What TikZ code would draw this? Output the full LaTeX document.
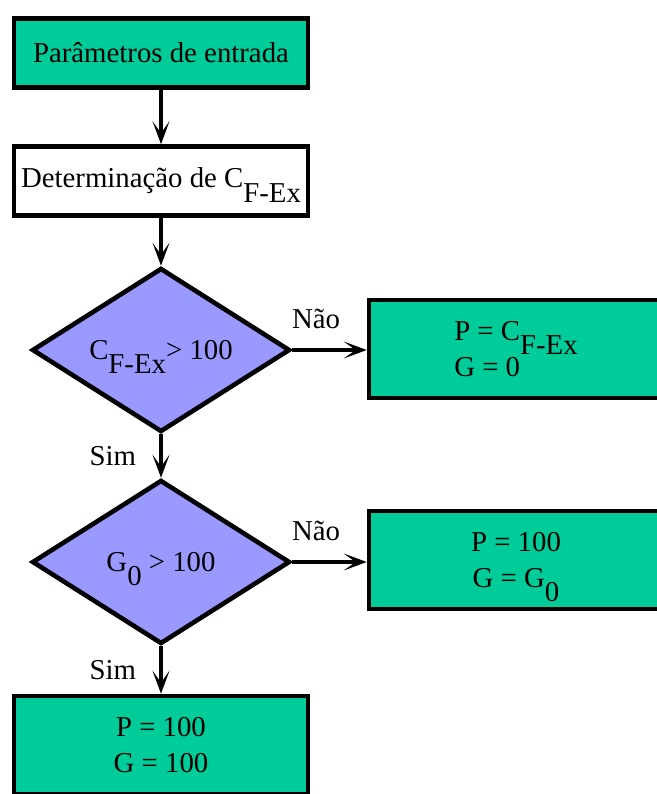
\documentclass[tikz,border=0pt]{standalone}
\usepackage{fontspec}
\setmainfont{Liberation Serif}
\usepackage{xcolor}
\usetikzlibrary{arrows.meta,positioning,shapes.geometric}
\definecolor{boxgreen}{RGB}{0,204,153}
\definecolor{testblue}{RGB}{153,153,255}
\newcommand{\lowidx}[1]{\raisebox{-1.1ex}[0pt][0pt]{#1}}

\begin{document}
\begin{tikzpicture}[x=.5pt,y=-.5pt,font=\fontsize{14.4}{18}\selectfont,
  >={Stealth[length=11.5pt,width=8.5pt,inset=6pt]},
  stepbox/.style={draw,line width=2.3pt,inner sep=0pt,minimum width=147pt,minimum height=34.5pt},
  resbox/.style={stepbox,fill=boxgreen,minimum height=49pt,align=center},
  testnode/.style={diamond,aspect=1.5,draw,line width=2.3pt,fill=testblue,inner sep=0pt,minimum width=129pt,minimum height=82pt},
  flow/.style={->,line width=2.3pt}]
\useasboundingbox (0,0) rectangle (657,794);
\clip (0,0) rectangle (657,794);
\node[stepbox,fill=boxgreen] (inp) at (161,53) {Parâmetros de entrada};
\node[stepbox,fill=white] (det) at (161,181) {Determinação de C\lowidx{F-Ex}};
\node[testnode] (cond1) at (161,350) {C\lowidx{F-Ex}> 100};
\node[resbox,align=left] (res1) at (516,349) {P = C\lowidx{F-Ex}\\G = 0};
\node[testnode] (cond2) at (161,562) {G\lowidx{0} > 100};
\node[resbox] (res2) at (516,560) {P = 100\\G = G\lowidx{0}};
\node[resbox] (res3) at (161,745) {P = 100\\G = 100};
\draw[flow] (inp) -- (det);
\draw[flow] (det) -- (cond1);
\draw[flow] (cond1.east) -- node[pos=.32,above=6pt]{Não} (cond1.east -| res1.west);
\draw[flow] (cond1) -- node[midway,left=8pt]{Sim} (cond2);
\draw[flow] (cond2.east) -- node[pos=.32,above=6pt]{Não} (cond2.east -| res2.west);
\draw[flow] (cond2) -- node[midway,left=8pt]{Sim} (res3);
\end{tikzpicture}
\end{document}
